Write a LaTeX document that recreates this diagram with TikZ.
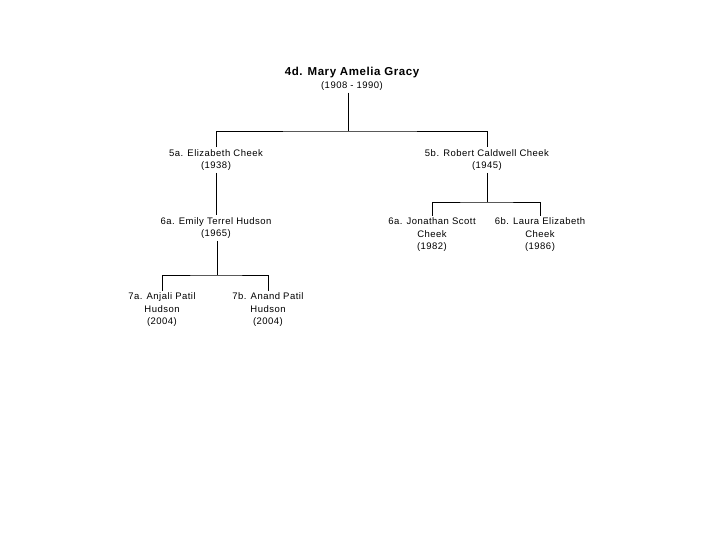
\documentclass[tikz,border=0pt]{standalone}
\usepackage{fontspec}
\setmainfont{Liberation Sans}[LetterSpace=5]
\begin{document}
\begin{tikzpicture}[x=1pt,y=-1pt,
    person/.style={align=center,inner sep=2pt,font=\fontsize{9.5}{12.5}\selectfont},
    link/.style={draw=black,line width=0.8pt}]
    \useasboundingbox (0,0) rectangle (720,540);

    \node[person] (root) at (352,79) {{\fontsize{11.5}{14}\selectfont\bfseries 4d. Mary Amelia Gracy}\\(1908 - 1990)};
    \node[person] (p5a) at (216,160) {5a. Elizabeth Cheek\\(1938)};
    \node[person] (p5b) at (487,160) {5b. Robert Caldwell Cheek\\(1945)};
    \node[person] (p6a) at (216,228) {6a. Emily Terrel Hudson\\(1965)};
    \node[person] (p7a) at (162,310) {7a. Anjali Patil\\Hudson\\(2004)};
    \node[person] (p7b) at (268,310) {7b. Anand Patil\\Hudson\\(2004)};
    \node[person] (p6j) at (432,235) {6a. Jonathan Scott\\Cheek\\(1982)};
    \node[person] (p6l) at (540,235) {6b. Laura Elizabeth\\Cheek\\(1986)};

    \coordinate (j4) at (348,131);
    \coordinate (j6) at (217,275);
    \coordinate (j5) at (487,202);

    \draw[link] (root.south -| j4) -- (j4);
    \draw[link] (p5a.north) |- (j4) -| (p5b.north);
    \draw[link] (p5a) -- (p6a);
    \draw[link] (p6a.south -| j6) -- (j6);
    \draw[link] (p7a.north) |- (j6) -| (p7b.north);
    \draw[link] (p5b.south -| j5) -- (j5);
    \draw[link] (p6j.north) |- (j5) -| (p6l.north);
\end{tikzpicture}
\end{document}
